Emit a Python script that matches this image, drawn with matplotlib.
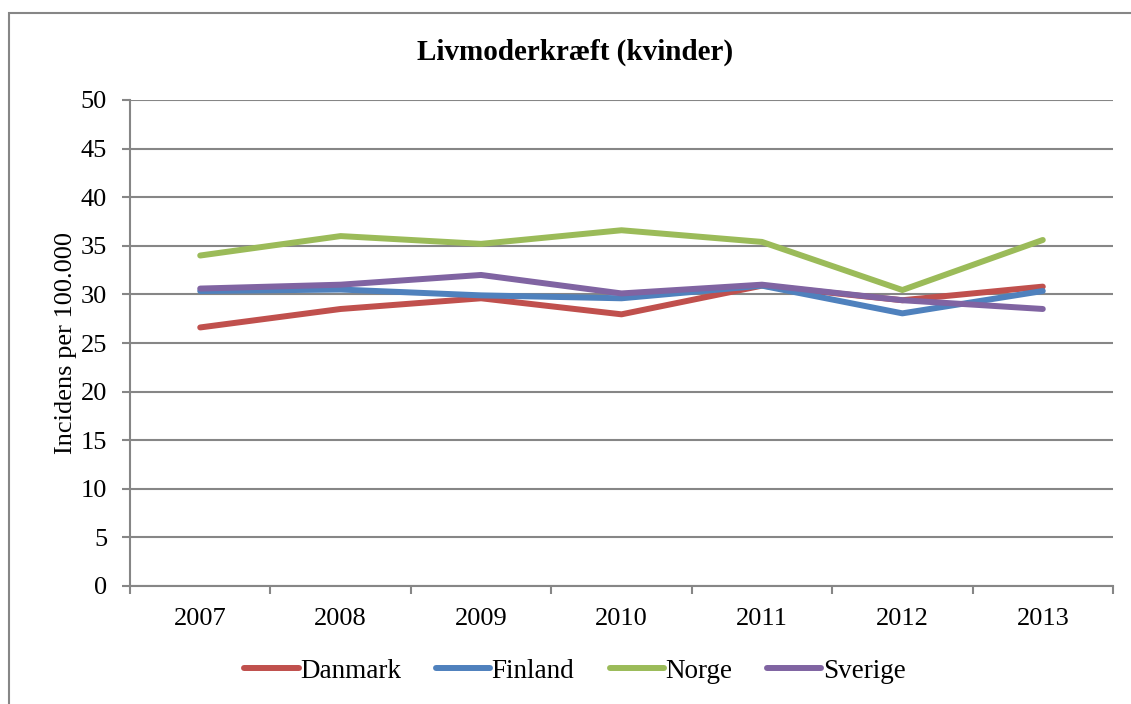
import matplotlib
matplotlib.use("Agg")
import matplotlib.pyplot as plt
from matplotlib.patches import Rectangle

years = ["2007", "2008", "2009", "2010", "2011", "2012", "2013"]
danmark = [26.6, 28.5, 29.6, 27.95, 30.9, 29.4, 30.8]
finland = [30.35, 30.5, 29.9, 29.6, 30.9, 28.05, 30.35]
norge = [34.0, 36.0, 35.2, 36.6, 35.4, 30.45, 35.6]
sverige = [30.6, 31.0, 32.0, 30.1, 31.0, 29.4, 28.5]

series = [
    ("Danmark", danmark, "#C0504D"),
    ("Finland", finland, "#4F81BD"),
    ("Norge", norge, "#9BBB59"),
    ("Sverige", sverige, "#8064A2"),
]

plt.rcParams['font.family'] = ['Liberation Serif', 'DejaVu Serif']
grey = "#868686"
fs = 19

fig = plt.figure(figsize=(11.31, 7.04), dpi=100)
ax = fig.add_axes([130 / 1131, 1 - 586 / 704, (1113 - 130) / 1131, (586 - 100) / 704])

# outer chart border (only top and left are inside the image)
fig.patches.append(Rectangle((9 / 1131, -0.1), 1.2, 1 - 13 / 704 + 0.1,
                             transform=fig.transFigure, fill=False,
                             edgecolor=grey, linewidth=1.5, zorder=0))

x = list(range(len(years)))
for name, vals, col in series:
    ax.plot(x, vals, color=col, linewidth=4.3, solid_capstyle="round",
            solid_joinstyle="round", label=name, zorder=3)

ax.set_xlim(-0.5, len(years) - 0.5)
ax.set_ylim(0, 50)
ax.set_yticks(range(0, 51, 5))
ax.yaxis.grid(True, color=grey, linewidth=1.5)
ax.set_axisbelow(True)

ax.set_xticks([i - 0.5 for i in range(len(years) + 1)])
ax.set_xticklabels([])
ax.set_xticks(x, minor=True)
ax.set_xticklabels(years, minor=True)
ax.tick_params(axis="x", which="major", length=6, width=1.5, color=grey, direction="out")
ax.tick_params(axis="x", which="minor", length=0, pad=16, labelsize=fs)
ax.tick_params(axis="y", length=6, width=1.5, color=grey, direction="out",
               pad=10.5, labelsize=fs)

for s in ["top", "right"]:
    ax.spines[s].set_visible(False)
for s in ["left", "bottom"]:
    ax.spines[s].set_color(grey)
    ax.spines[s].set_linewidth(1.5)

ax.set_ylabel("Incidens per 100.000", fontsize=fs, labelpad=3)
fig.text(575 / 1131, 1 - 52 / 704, "Livmoderkræft (kvinder)", ha="center",
         va="center", fontsize=21, fontweight="bold")

fig.legend(loc="center", bbox_to_anchor=(575 / 1131, 1 - 671 / 704), ncol=4,
           frameon=False, fontsize=fs + 0.5, handlelength=2.0, handletextpad=0.05,
           columnspacing=1.3)

fig.savefig("out.png", dpi=100)
